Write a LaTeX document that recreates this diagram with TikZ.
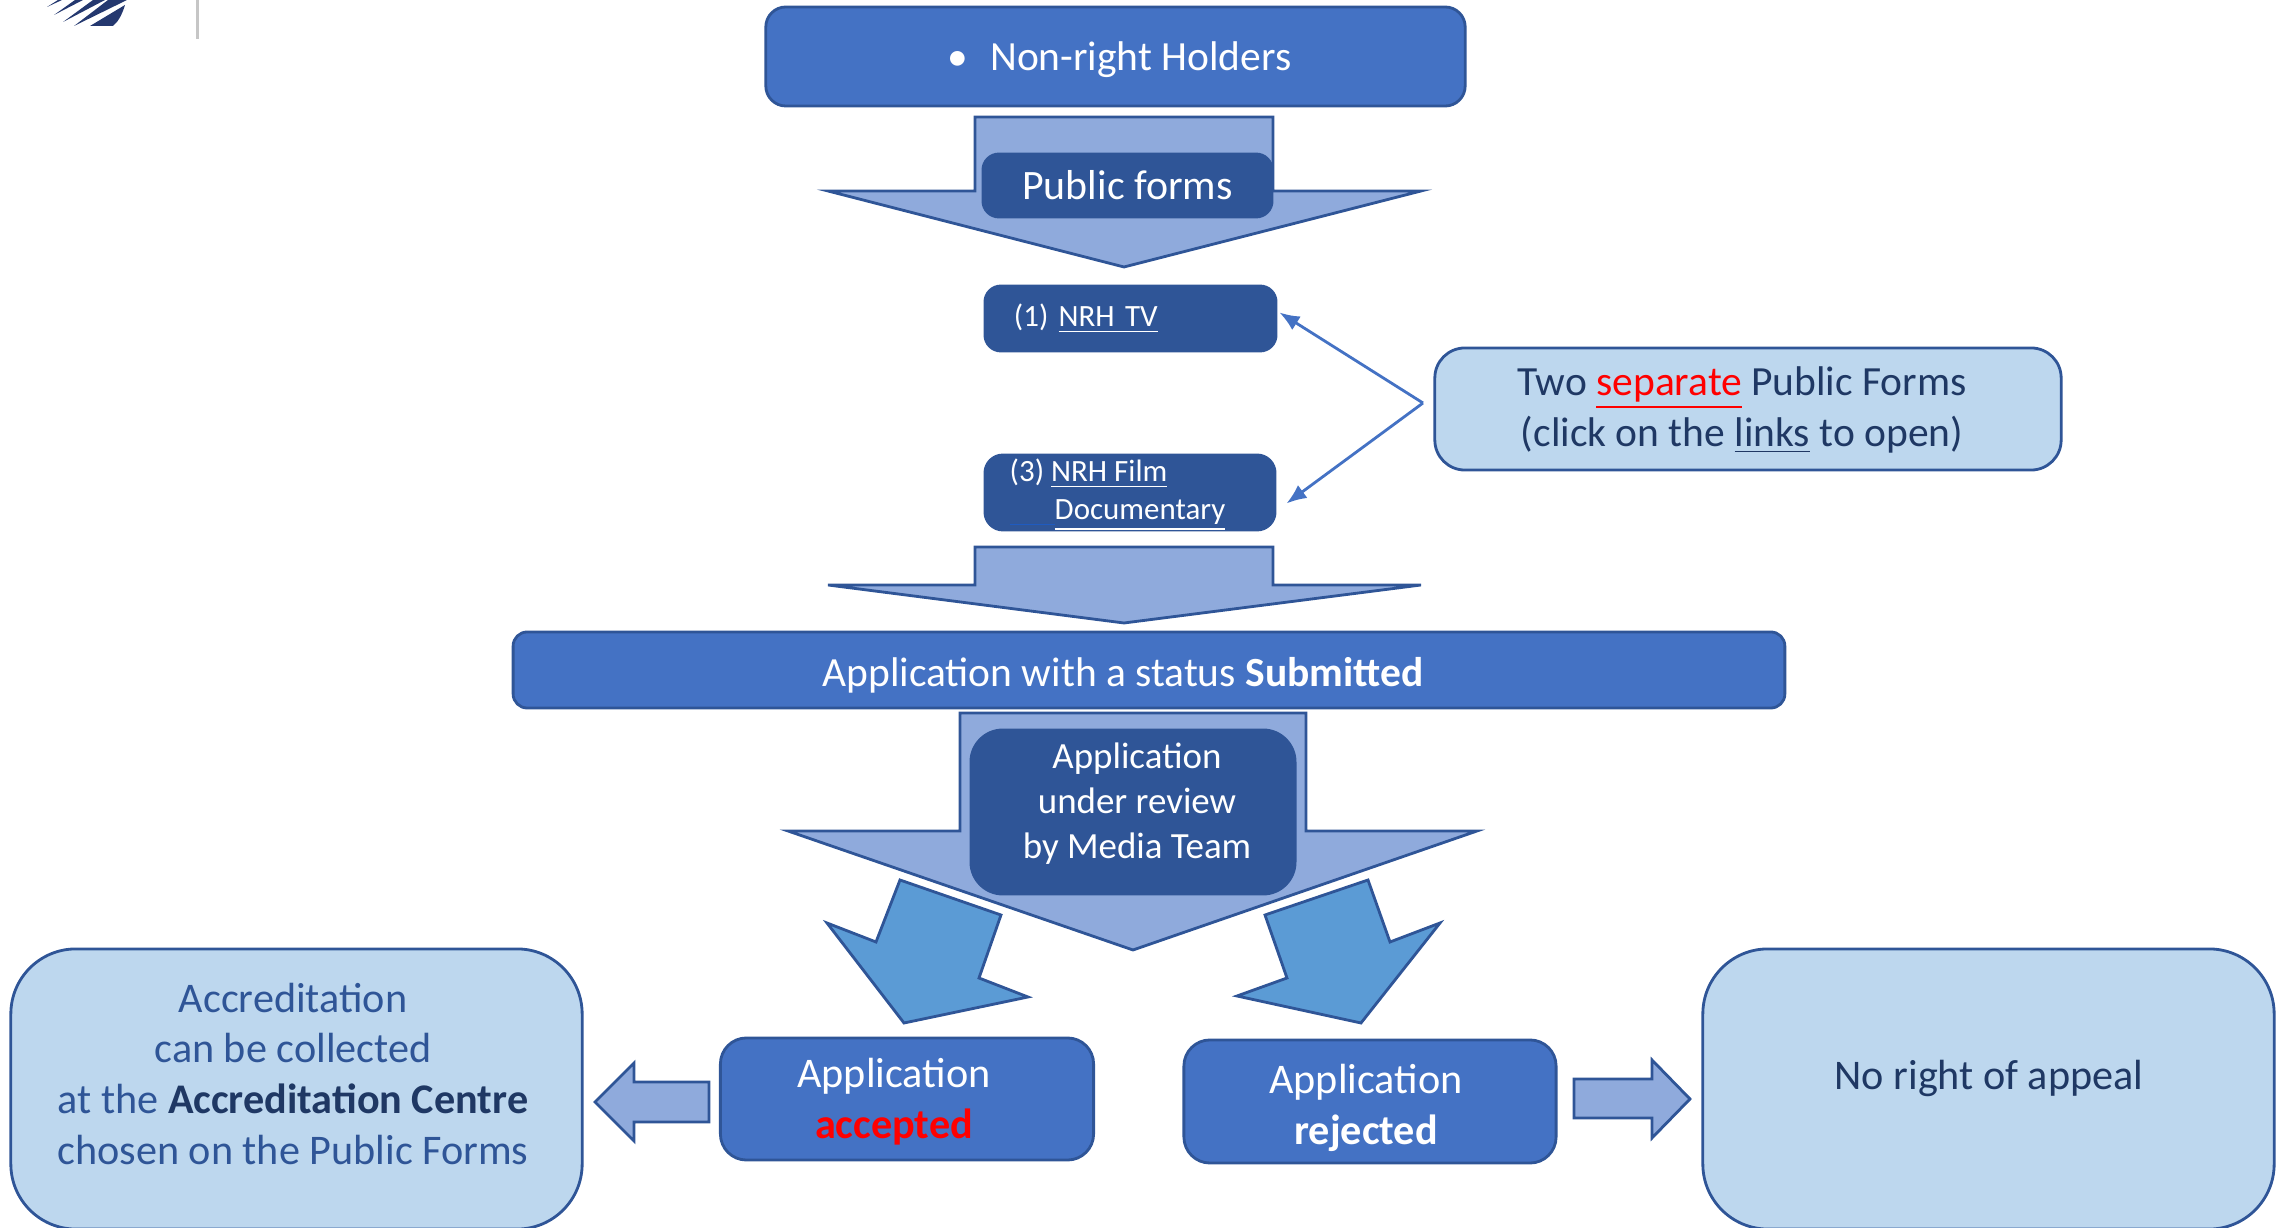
\documentclass[tikz,border=0pt]{standalone}
\usepackage{fontspec}
\setmainfont{Carlito}
\usetikzlibrary{arrows.meta}
\usetikzlibrary{calc}

\definecolor{boxblue}{HTML}{4472C4}
\definecolor{darkblue}{HTML}{2F5597}
\definecolor{arrowblue}{HTML}{8FAADC}
\definecolor{paleblue}{HTML}{BDD7EE}
\definecolor{skyblue}{HTML}{5B9BD5}
\definecolor{navytext}{HTML}{1F3864}
\definecolor{logoblue}{HTML}{24386F}
\definecolor{linkblue}{HTML}{1F5BC0}

\tikzset{
	basebox/.style={draw=darkblue, line width=0.8pt, rounded corners=#1, inner sep=0pt, align=center},
	mainbox/.style={basebox=#1, fill=boxblue, text=white},
	formbox/.style={basebox=#1, fill=darkblue, text=white},
	notebox/.style={basebox=#1, fill=paleblue},
	blockarrow/.style={draw=darkblue, line width=0.8pt, fill=arrowblue, line join=miter},
	turnarrow/.style={blockarrow, fill=skyblue},
	linkarrow/.style={draw=boxblue, line width=0.8pt, -{Latex[length=0.2cm,width=0.16cm]}},
	bigtext/.style={font=\fontsize{12}{14.5}\selectfont, align=center},
	smalltext/.style={font=\fontsize{8.8}{10.8}\selectfont, align=left, text=white},
}

\begin{document}
\begin{tikzpicture}[x=0.01cm, y=-0.01cm]
	\useasboundingbox (0,0) rectangle (2277,1228);

	% logo corner
	\fill[logoblue] (47,7) -- (62,0) -- (58,0) -- cycle;
	\fill[logoblue] (54,15) -- (83,0) -- (75,0) -- cycle;
	\fill[logoblue] (63,22) -- (105,0) -- (93,0) -- cycle;
	\fill[logoblue] (74,26) -- (127,0) -- (108,0) -- cycle;
	\fill[logoblue] (90,26) -- (125,5) .. controls (122,15) and (118,22) .. (113,26) -- cycle;
	\fill[gray!45] (196,0) rectangle (199,39);

	% block arrows first, the boxes sit on them
	\draw[blockarrow] (975,117) -- (1273,117) -- (1273,191) -- (1421,191) -- (1124,267) -- (828,191) -- (975,191) -- cycle;
	\draw[blockarrow] (975,547) -- (1273,547) -- (1273,585) -- (1421,585) -- (1124,623) -- (828,585) -- (975,585) -- cycle;
	\draw[blockarrow] (960,713) -- (1306,713) -- (1306,831) -- (1477,831) -- (1133,950) -- (788,831) -- (960,831) -- cycle;

	% arrows turning to the two outcomes
	\draw[turnarrow] (900,880) -- (1001,915) -- (979,978) -- (1028,997) -- (904,1023) -- (827,923) -- (876,942) -- cycle;
	\draw[turnarrow] (1368,880) -- (1265,915) -- (1287,978) -- (1237,996) -- (1361,1023) -- (1440,923) -- (1390,942) -- cycle;

	% arrows out to the side boxes
	\draw[blockarrow] (709,1082) -- (634,1082) -- (634,1063) -- (595,1102) -- (634,1141) -- (634,1122) -- (709,1122) -- cycle;
	\draw[blockarrow] (1574,1079) -- (1652,1079) -- (1652,1060) -- (1690,1099) -- (1652,1138) -- (1652,1118) -- (1574,1118) -- cycle;

	% boxes
	\node[mainbox=0.2cm, minimum width=6.99cm, minimum height=0.99cm, text depth=0pt, font=\fontsize{11.8}{14}\selectfont] (holders) at (1115.5,56.5) {\hspace{0.08cm}\textbullet\hspace{0.22cm}Non-right Holders};
	\node[formbox=0.16cm, minimum width=2.89cm, minimum height=0.63cm, font=\fontsize{11.9}{14}\selectfont] (public) at (1127.5,185.5) {Public forms};
	\node[formbox=0.16cm, minimum width=2.91cm, minimum height=0.65cm, text width=2.33cm, smalltext] (nrhtv) at (1130.5,318.5) {(1) \underline{NRH TV}};
	\node[formbox=0.18cm, minimum width=2.9cm, minimum height=0.75cm] (nrhfilm) at (1130,492.5) {};
	\node[mainbox=0.14cm, minimum width=12.71cm, minimum height=0.76cm] (submitted) at (1149,670) {};
	\node[formbox=0.32cm, minimum width=3.24cm, minimum height=1.64cm] (review) at (1133,812) {};
	\node[mainbox=0.26cm, minimum width=3.73cm, minimum height=1.22cm] (accepted) at (907,1099) {};
	\node[mainbox=0.26cm, minimum width=3.72cm, minimum height=1.23cm] (rejected) at (1370,1101.5) {};
	\node[notebox=0.3cm, minimum width=6.26cm, minimum height=1.22cm] (callout) at (1748,409) {};
	\node[notebox=0.65cm, minimum width=5.71cm, minimum height=2.8cm] (centre) at (296.5,1089) {};
	\node[notebox=0.65cm, minimum width=5.71cm, minimum height=2.8cm] (noappeal) at (1988.5,1089) {};

	% texts that sit off the middle of their box
	\node[smalltext, anchor=west, inner sep=0pt] (nrhfilmtxt) at (1009,495) {(3) \underline{NRH Film}\\ \textcolor{linkblue}{\underline{\hspace*{0.45cm}}}\underline{Documentary}};
	\node[bigtext, text=white, font=\fontsize{11.8}{14.5}\selectfont] (submittedtxt) at (1123,675) {Application with a status \textbf{Submitted}};
	\node[text=white, align=center, font=\fontsize{10.5}{12.8}\selectfont] (reviewtxt) at (1137,804) {Application\\under review\\by Media Team};
	\node[bigtext, text=white] (acceptedtxt) at (894,1102) {Application\\\textcolor{red}{\textbf{accepted}}};
	\node[bigtext, text=white] (rejectedtxt) at (1366,1108) {Application\\\textbf{rejected}};
	\node[bigtext, text=navytext, font=\fontsize{11.8}{14.5}\selectfont] (callouttxt) at (1742,410) {Two \textcolor{red}{\underline{separate}} Public Forms\\(click on the \underline{links} to open)};
	\node[bigtext, text=darkblue] (centretxt) at (293,1074) {Accreditation\\can be collected\\at the \textcolor{navytext}{\textbf{Accreditation Centre}}\\chosen on the Public Forms};
	\node[bigtext, text=navytext] (noappealtxt) at (1989,1078) {No right of appeal};

	% pointers from the note to the two forms
	\coordinate (apex) at (1423,403);
	\draw[linkarrow] (apex) -- ([shift={(2,-6)}]nrhtv.east);
	\draw[linkarrow] (apex) -- ([shift={(10,11)}]nrhfilm.east);

\end{tikzpicture}
\end{document}
